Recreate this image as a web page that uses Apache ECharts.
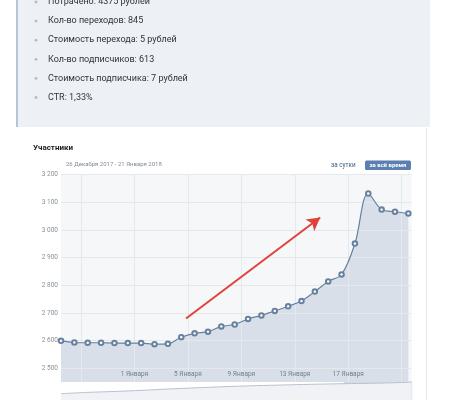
<!DOCTYPE html>
<html><head><meta charset="utf-8">
<script src="https://cdn.jsdelivr.net/npm/echarts@6/dist/echarts.min.js"></script>
<style>html,body{margin:0;padding:0;background:#fff}#c{width:453px;height:400px}</style>
</head><body><div id="c"></div>
<script>
// ---- data ----
const statLines = [
  'Потрачено: 4375 рублей',
  'Кол-во переходов: 845',
  'Стоимость перехода: 5 рублей',
  'Кол-во подписчиков: 613',
  'Стоимость подписчика: 7 рублей',
  'CTR: 1,33%'
];
const chartTitle = 'Участники';
const dateRange = '26 Декабря 2017 - 21 Января 2018';
const periodDay = 'за сутки';
const periodAll = 'за всё время';

const dayIndex = [0,1,2,3,4,5,6,7,8,9,10,11,12,13,14,15,16,17,18,19,20,21,22,23,24,25,26];
const members  = [2599,2593,2592,2592,2591,2591,2591,2587,2588,2612,2626,2632,2651,2658,
                  2678,2691,2707,2724,2743,2777,2814,2839,2951,3132,3074,3066,3060];

const yTickValues = [2500,2600,2700,2800,2900,3000,3100,3200];
const yTickLabels = ['2 500','2 600','2 700','2 800','2 900','3 000','3 100','3 200'];
const xGridValues = [1.5,5.5,9.5,13.5,17.5,21.5,25.5];
const xLabelValues = [5.5,9.5,13.5,17.5,21.5];
const xLabels = ['1 Января','5 Января','9 Января','13 Января','17 Января'];

const overviewIndex  = [0,1,2,3,4,5,6,7,8,9,10,11,12,13];
const overviewValues = [1120,1360,1520,1720,1960,2160,2360,2520,2640,2760,2856,2944,3016,3184];
const overviewSelection = [10.5, 13];

const arrowStart = [9.36, 2680];
const arrowEnd   = [19.4, 3045];

// ---- chart ----
const FONT = 'Roboto, "Noto Sans", sans-serif';
const chart = echarts.init(document.getElementById('c'), null, {renderer: 'canvas'});

const pairs = dayIndex.map((d, i) => [d, members[i]]);
const ovPairs = overviewIndex.map((d, i) => [d, overviewValues[i]]);

const graphics = [
  {type: 'rect', shape: {x: 17, y: 0, width: 413, height: 127}, style: {fill: '#edf0f5'}, z: -10},
  {type: 'rect', shape: {x: 16, y: 0, width: 2, height: 127}, style: {fill: '#b7c4d4'}, z: -9},
  {type: 'rect', shape: {x: 426, y: 128, width: 1, height: 272}, style: {fill: '#e6e8ec'}, z: -9},
  {type: 'text', x: 33, y: 148, style: {text: chartTitle, font: 'bold 8px ' + FONT, fill: '#222', verticalAlign: 'middle'}},
  {type: 'text', x: 66, y: 164.5, style: {text: dateRange, font: '6px ' + FONT, fill: '#858c95', verticalAlign: 'middle'}},
  {type: 'text', x: 331, y: 165.5, style: {text: periodDay, font: '6.3px ' + FONT, fill: '#3d5a7d', verticalAlign: 'middle'}},
  {type: 'rect', shape: {x: 365, y: 160.5, width: 46, height: 9.5, r: 1.5}, style: {fill: '#5a7fb0'}},
  {type: 'text', x: 388, y: 165.3, style: {text: periodAll, font: 'bold 6px ' + FONT, fill: '#fff', align: 'center', verticalAlign: 'middle'}}
];
statLines.forEach((t, i) => {
  const y = 2 + i * 19.1;
  graphics.push({type: 'circle', shape: {cx: 36, cy: y, r: 1.4}, style: {fill: '#b3bac4'}});
  graphics.push({type: 'text', x: 48, y: y, style: {text: t, font: '9px ' + FONT, fill: '#333', verticalAlign: 'middle'}});
});

const option = {
  animation: false,
  backgroundColor: '#fff',
  graphic: graphics,
  grid: [
    {left: 61, top: 174.7, width: 350.7, height: 207.3, show: true, backgroundColor: '#f6f7f9', borderWidth: 0},
    {left: 61, top: 382, width: 350.7, height: 40, show: false}
  ],
  xAxis: [
    {
      type: 'value', gridIndex: 0, min: 0, max: 26.25, z: 3,
      axisLine: {show: false},
      axisTick: {show: false, customValues: xGridValues},
      splitLine: {show: true, lineStyle: {color: '#e5e9ee', width: 1}},
      axisLabel: {
        customValues: xLabelValues, inside: true, margin: 4,
        formatter: v => xLabels[xLabelValues.indexOf(v)] || '',
        color: '#74808e', fontSize: 6.5, fontFamily: FONT
      }
    },
    {type: 'value', gridIndex: 1, min: 0, max: 13, show: false}
  ],
  yAxis: [
    {
      type: 'value', gridIndex: 0, min: 2450, max: 3200, z: 3,
      axisLine: {show: false},
      axisTick: {show: false, customValues: yTickValues},
      splitLine: {show: true, lineStyle: {color: '#e5e9ee', width: 1}},
      axisLabel: {
        customValues: yTickValues, margin: 3,
        formatter: v => yTickLabels[yTickValues.indexOf(v)] || '',
        color: '#8a9098', fontSize: 6.5, fontFamily: FONT
      }
    },
    {type: 'value', gridIndex: 1, min: 0, max: 3200, show: false}
  ],
  series: [
    {
      type: 'line', xAxisIndex: 0, yAxisIndex: 0, data: pairs, smooth: 0.35,
      showSymbol: false, silent: true, z: 1,
      lineStyle: {width: 0, opacity: 0},
      areaStyle: {color: '#d8dfe9', opacity: 1}
    },
    {
      type: 'line', xAxisIndex: 0, yAxisIndex: 0, data: pairs, smooth: 0.35, z: 5,
      symbol: 'emptyCircle', symbolSize: 4.5,
      lineStyle: {color: '#67819f', width: 1.2},
      itemStyle: {color: '#67819f', borderWidth: 0.9},
      markLine: {
        silent: true, symbol: ['none', 'arrow'], symbolSize: 12,
        label: {show: false},
        lineStyle: {color: '#e0423a', width: 2, type: 'solid'},
        data: [[{coord: arrowStart, symbol: 'none'}, {coord: arrowEnd, symbol: 'arrow', symbolSize: [11, 13]}]]
      }
    },
    {
      type: 'line', xAxisIndex: 1, yAxisIndex: 1, data: ovPairs, smooth: 0.3,
      showSymbol: false, silent: true,
      lineStyle: {color: '#b6c2d0', width: 1},
      areaStyle: {color: '#f0f2f6', opacity: 1},
      markArea: {
        silent: true,
        itemStyle: {color: 'rgba(205,214,226,0.6)', borderColor: '#c8d1dc', borderWidth: 1},
        data: [[{xAxis: overviewSelection[0]}, {xAxis: overviewSelection[1]}]]
      }
    }
  ]
};
chart.setOption(option);
</script>
</body></html>
